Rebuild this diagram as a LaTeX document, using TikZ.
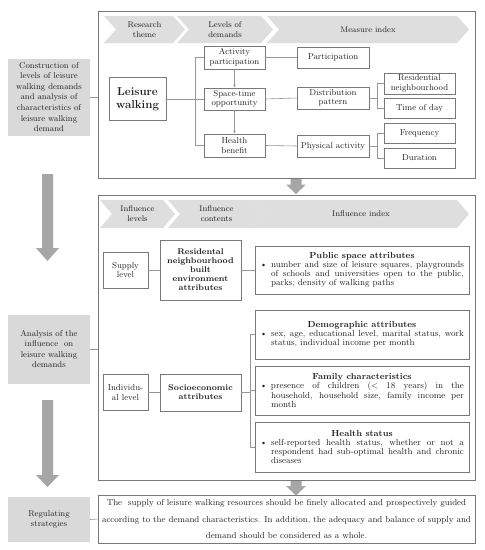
\documentclass[tikz,border=0pt]{standalone}
\usetikzlibrary{arrows.meta}
\definecolor{bd}{RGB}{120,120,120}
\definecolor{ln}{RGB}{150,150,150}
\definecolor{chevfill}{RGB}{222,222,222}
\definecolor{gbox}{RGB}{217,217,217}
\definecolor{garrow}{RGB}{166,166,166}
\definecolor{txt}{RGB}{35,35,35}
\newcommand\chev[6]{%
  \fill[chevfill] (#1,#3) -- (#2-12,#3) -- (#2,{(#3+#4)/2}) -- (#2-12,#4) -- (#1,#4) -- (#1+12,{(#3+#4)/2}) -- cycle;
  \node[chevtext] (#5) at ({(#1+#2)/2},{(#3+#4)/2}) {#6};}
\newcommand\bitem[1]{{\hyphenpenalty=10000\exhyphenpenalty=10000\setlength\leftskip{11pt}\noindent\llap{\makebox[11pt][l]{\textbullet}}#1\par}}
\newcommand\btitle[1]{{\centering\bfseries #1\par}}
\begin{document}
\begin{tikzpicture}[x=1pt,y=-1pt,
  box/.style={draw=bd,fill=white,line width=0.6pt,align=center,inner sep=1pt,text=txt,font=\fontsize{8.6}{9.6}\selectfont},
  bbox/.style={box,font=\fontsize{8.3}{9}\selectfont\bfseries},
  ibox/.style={draw=bd,fill=white,line width=0.6pt,inner xsep=5pt,inner ysep=2pt,text width=204pt,align=justify,text=txt,font=\fontsize{8.8}{9.1}\selectfont,minimum width=214pt},
  gray box/.style={fill=gbox,align=center,inner sep=1pt,text=txt,font=\fontsize{8.5}{10.6}\selectfont},
  frame/.style={draw=bd,line width=0.6pt},
  chevtext/.style={align=center,text=txt,font=\fontsize{8.2}{10}\selectfont},
  conn/.style={draw=ln,line width=0.6pt},
  arr/.style={conn,-{Latex[length=3pt,width=2.6pt]}},
]
\useasboundingbox (0,0) rectangle (485,550);
\fill[white] (0,0) rectangle (485,550);

% ---------- frame 1
\node[frame,minimum width=377pt,minimum height=167pt,inner sep=0pt] (f1) at (286.5,94.5) {};
\chev{104}{185}{16}{43}{h1}{Research\\theme}
\chev{177}{273}{16}{43}{h2}{Levels of\\demands}
\chev{267}{469}{16}{43}{h3}{Measure index}

\node[gray box,minimum width=82pt,minimum height=77pt] (g1) at (49,97) {Construction of\\levels of leisure\\walking demands\\and analysis of\\characteristics of\\leisure walking\\demand};

\node[box,minimum width=57pt,minimum height=43pt,font=\fontsize{11.5}{13.5}\selectfont\bfseries] (lw) at (137.5,99) {Leisure\\walking};
\node[box,minimum width=61pt,minimum height=23pt] (ap) at (234.5,57.5) {Activity\\participation};
\node[box,minimum width=61pt,minimum height=22pt] (st) at (234.5,99) {Space-time\\opportunity};
\node[box,minimum width=61pt,minimum height=23pt] (hb) at (234.5,145.5) {Health\\benefit};
\node[box,minimum width=72pt,minimum height=21pt] (pa) at (333,57.5) {Participation};
\node[box,minimum width=72pt,minimum height=22pt] (dp) at (333,98) {Distribution\\pattern};
\node[box,minimum width=72pt,minimum height=22pt] (ph) at (333,146) {Physical activity};
\node[box,minimum width=71pt,minimum height=21pt] (rn) at (419.5,83.5) {Residential\\neighbourhood};
\node[box,minimum width=71pt,minimum height=20pt] (td) at (419.5,108) {Time of day};
\node[box,minimum width=71pt,minimum height=20pt] (fr) at (419.5,133) {Frequency};
\node[box,minimum width=71pt,minimum height=20pt] (du) at (419.5,158) {Duration};

\coordinate (br1) at (195,0);
\coordinate (br2) at (377,0);
\draw[conn] (g1.east) -- (g1.east -| f1.west);
\draw[conn] (ap.west) -- (ap.west -| br1) -- (hb.west -| br1) -- (hb.west);
\draw[conn] (lw.east) -- (st.west);
\draw[arr] (ap.south) -- (st.north);
\draw[arr] (st.south) -- (hb.north);
\draw[conn] (ap.east) -- (pa.west);
\draw[conn] (st.east) -- (dp.west);
\draw[conn] (hb.east) -- (ph.west);
\draw[conn] (rn.west) -- (rn.west -| br2) -- (td.west -| br2) -- (td.west);
\draw[conn] (dp.east) -- (dp.east -| br2);
\draw[conn] (fr.west) -- (fr.west -| br2) -- (du.west -| br2) -- (du.west);
\draw[conn] (ph.east) -- (ph.east -| br2);

% ---------- frame 2
\node[frame,minimum width=377pt,minimum height=285pt,inner sep=0pt] (f2) at (286.5,337.5) {};
\chev{100}{175}{200}{228}{k1}{Influence\\levels}
\chev{168}{265}{200}{228}{k2}{Influence\\contents}
\chev{253}{469}{200}{228}{k3}{Influence index}

\node[gray box,minimum width=82pt,minimum height=69pt] (g2) at (49,349) {Analysis of the\\influence\ \ on\\leisure walking\\demands};

\node[box,minimum width=45pt,minimum height=36pt] (sl) at (125.5,270) {Supply\\level};
\node[bbox,minimum width=81pt,minimum height=60pt] (rb) at (200.5,270) {Residental\\neighbourhood\\built\\environment\\attributes};
\node[ibox,minimum height=48pt] (ps) at (362,270) {\btitle{Public space attributes}\bitem{number and size of leisure squares, playgrounds\linebreak of schools and universities open to the public,\linebreak parks; density of walking paths}};

\node[box,minimum width=45pt,minimum height=36pt] (il) at (125.5,392.5) {Individu-\\al level};
\node[bbox,minimum width=81pt,minimum height=37pt] (se) at (200.5,392.5) {Socioeconomic\\attributes};
\node[ibox,minimum height=49pt] (da) at (362,334.5) {\btitle{Demographic attributes}\bitem{sex, age, educational level, marital status, work\linebreak status, individual income per month}};
\node[ibox,minimum height=49pt] (fc) at (362,390.5) {\btitle{Family characteristics}\bitem{presence of children (< 18 years) in the\linebreak household, household size, family income per\linebreak month}};
\node[ibox,minimum height=50pt] (hs) at (362,447) {\btitle{Health status}\bitem{self-reported health status, whether or not a\linebreak respondent had sub-optimal health and chronic\linebreak diseases}};

\coordinate (br3) at (250,0);
\draw[conn] (g2.east) -- (g2.east -| f2.west);
\draw[conn] (sl.east) -- (rb.west);
\draw[conn] (rb.east) -- (ps.west);
\draw[conn] (il.east) -- (se.west);
\draw[conn] (da.west) -- (da.west -| br3) -- (hs.west -| br3) -- (hs.west);
\draw[conn] (se.east) -- (se.east -| br3);
\draw[conn] (fc.west) -- (fc.west -| br3);

% ---------- strategies
\node[gray box,minimum width=82pt,minimum height=45pt] (g3) at (49,519.5) {Regulating\\strategies};
\node[box,minimum width=377pt,minimum height=48pt,font=\fontsize{8.7}{16.3}\selectfont] (rs) at (286.5,519) {The\ \ supply of leisure walking resources should be finely allocated and prospectively guided\\according to the demand characteristics. In addition, the adequacy and balance of supply and\\demand should be considered as a whole.};
\draw[conn] (g3.east) -- (rs.west);

% ---------- gray arrows
\fill[garrow] (42,174) -- (53,174) -- (53,248) -- (59,248) -- (47.5,261) -- (36,248) -- (42,248) -- cycle;
\fill[garrow] (42,400) -- (53,400) -- (53,475) -- (59,475) -- (47.5,487) -- (36,475) -- (42,475) -- cycle;
\fill[garrow] (290.5,179) -- (301.5,179) -- (301.5,184.5) -- (306,184.5) -- (296,194) -- (286,184.5) -- (290.5,184.5) -- cycle;
\fill[garrow] (290.5,481) -- (301.5,481) -- (301.5,486) -- (306,486) -- (296,495.5) -- (286,486) -- (290.5,486) -- cycle;
\end{tikzpicture}
\end{document}
